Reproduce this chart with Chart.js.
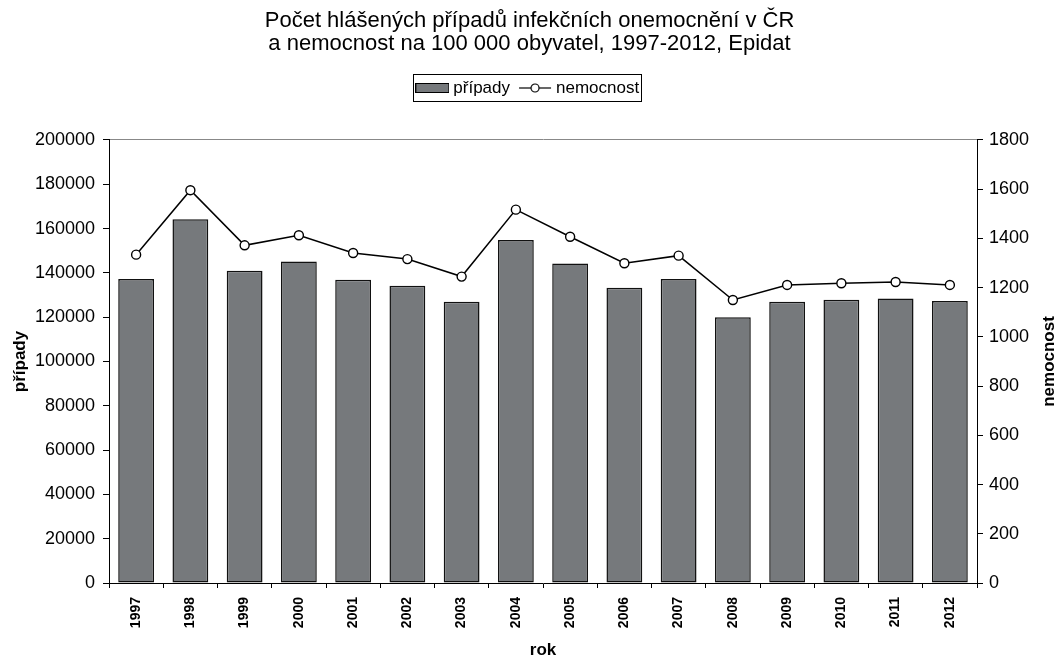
<!DOCTYPE html>
<html>
<head>
<meta charset="utf-8">
<script src="https://cdn.jsdelivr.net/npm/chart.js@4"></script>
<style>
  html, body { margin: 0; padding: 0; background: #fff; }
  #wrap { width: 1059px; height: 657px; }
</style>
</head>
<body>
<div id="wrap"><canvas id="graf"></canvas></div>
<script>
const roky = ["1997", "1998", "1999", "2000", "2001", "2002", "2003", "2004",
  "2005", "2006", "2007", "2008", "2009", "2010", "2011", "2012"];
const pripady = [137200, 164200, 141000, 145100, 136900, 134200, 127000, 154900,
  144200, 133300, 137200, 120000, 127000, 127900, 128400, 127300];
const nemocnost = [1334, 1596, 1372, 1413, 1341, 1316, 1245, 1517,
  1407, 1299, 1330, 1150, 1211, 1218, 1223, 1211];

const FONT = "'Liberation Sans', Arial, sans-serif";
Chart.defaults.font.family = FONT;
Chart.defaults.color = "#000";

// ikonky do legendy (34 px siroke, kresli se na stred polozky)
function ikona(kresli) {
  const c = document.createElement("canvas");
  c.width = 34; c.height = 12;
  kresli(c.getContext("2d"));
  return c;
}
const ikonaSloupec = ikona((g) => {
  g.fillStyle = "#76797c";
  g.fillRect(0, 1, 34, 10);
  g.strokeStyle = "#000";
  g.lineWidth = 1;
  g.strokeRect(0.5, 1.5, 33, 9);
});
const ikonaCara = ikona((g) => {
  g.strokeStyle = "#000";
  g.lineWidth = 1.2;
  g.beginPath(); g.moveTo(1, 6); g.lineTo(33, 6); g.stroke();
  g.fillStyle = "#fff";
  g.beginPath(); g.arc(17, 6, 4, 0, Math.PI * 2); g.fill(); g.stroke();
});

const ramecekLegendy = {
  id: "ramecekLegendy",
  afterDraw(chart) {
    const boxy = chart.legend.legendHitBoxes;
    if (!boxy || !boxy.length) return;
    const g = chart.ctx;
    const posl = boxy[boxy.length - 1];
    const l = boxy[0].left - 7;
    const p = posl.left + posl.width + 2;
    const t = boxy[0].top - 5;
    const b = boxy[0].top + boxy[0].height + 5;
    g.save();
    g.strokeStyle = "#000";
    g.lineWidth = 1;
    g.strokeRect(Math.round(l) + 0.5, Math.round(t) + 0.5, Math.round(p - l), Math.round(b - t));
    // nadpis prave osy (otoceny stejne jako vlevo)
    const y1 = chart.scales.y1;
    g.translate(1049, (y1.top + y1.bottom) / 2);
    g.rotate(-Math.PI / 2);
    g.font = "bold 17px " + FONT;
    g.fillStyle = "#000";
    g.textAlign = "center";
    g.textBaseline = "middle";
    g.fillText("nemocnost", 0, 0);
    g.restore();
  },
};

const bezCarky = (v) => String(v);

new Chart(document.getElementById("graf"), {
  type: "bar",
  data: {
    labels: roky,
    datasets: [
      {
        label: "případy",
        data: pripady,
        yAxisID: "y",
        backgroundColor: "#76797c",
        borderColor: "#111",
        borderWidth: 1.5,
        borderSkipped: false,
        barPercentage: 0.66,
        categoryPercentage: 1,
        order: 1,
      },
      {
        type: "line",
        label: "nemocnost",
        data: nemocnost,
        yAxisID: "y1",
        borderColor: "#000",
        borderWidth: 1.5,
        pointRadius: 4.5,
        pointBackgroundColor: "#fff",
        pointBorderColor: "#000",
        pointBorderWidth: 1.4,
        tension: 0,
        order: 0,
      },
    ],
  },
  options: {
    responsive: true,
    maintainAspectRatio: false,
    animation: false,
    layout: { padding: 0 },
    plugins: {
      title: {
        display: true,
        text: [
          "Počet hlášených případů infekčních onemocnění v ČR",
          "a nemocnost na 100 000 obyvatel, 1997-2012, Epidat",
        ],
        font: { size: 22, weight: "normal", lineHeight: 1.045 },
        color: "#000",
        padding: { top: 9.5, bottom: 11.5 },
      },
      legend: {
        position: "top",
        labels: {
          usePointStyle: true,
          pointStyleWidth: 25,
          padding: 12.5,
          font: { size: 17 },
          color: "#000",
          sort: (a, b) => a.datasetIndex - b.datasetIndex,
          generateLabels: (chart) =>
            Chart.defaults.plugins.legend.labels.generateLabels(chart).map((it) => {
              it.pointStyle = it.datasetIndex === 0 ? ikonaSloupec : ikonaCara;
              return it;
            }),
        },
      },
      tooltip: { enabled: false },
    },
    scales: {
      x: {
        grid: { drawOnChartArea: false, tickLength: 5, color: "#000", offset: true },
        border: { color: "#000" },
        ticks: { minRotation: 90, maxRotation: 90, padding: 9, font: { size: 14, weight: "bold" } },
        title: { display: true, text: "rok", font: { size: 17, weight: "bold" }, padding: { top: 0, bottom: -4 } },
        afterFit: (s) => { s.height = 74; },
      },
      x2: {
        type: "category",
        position: "top",
        grid: { display: false },
        ticks: { display: false },
        border: { display: true, color: "#888" },
        afterFit: (s) => { s.height = 33.5; },
      },
      y: {
        position: "left",
        min: 0,
        max: 200000,
        grid: { drawOnChartArea: false, tickLength: 6, color: "#000" },
        border: { color: "#000" },
        ticks: { stepSize: 20000, padding: 8, font: { size: 18 }, callback: bezCarky },
        title: { display: true, text: "případy", font: { size: 17, weight: "bold" }, padding: { top: 10, bottom: 0 } },
        afterFit: (s) => { s.width = 109; },
      },
      y1: {
        position: "right",
        min: 0,
        max: 1800,
        grid: { drawOnChartArea: false, tickLength: 6, color: "#000" },
        border: { color: "#000" },
        ticks: { stepSize: 200, padding: 6, font: { size: 18 }, callback: bezCarky },
        afterFit: (s) => { s.width = 82; },
      },
    },
  },
  plugins: [ramecekLegendy],
});
</script>
</body>
</html>
